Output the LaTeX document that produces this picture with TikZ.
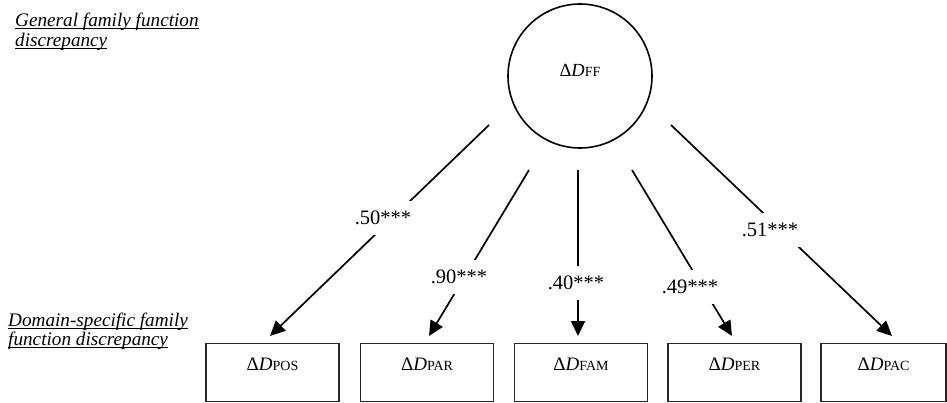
\documentclass[tikz,border=0pt]{standalone}
\usepackage{fontspec}
\setmainfont{Liberation Serif}
\usetikzlibrary{arrows.meta}
\newsavebox\ulbox
\newcommand\ulx[1]{\sbox\ulbox{#1}\rlap{\rule[-2.5pt]{\wd\ulbox}{1pt}}\usebox\ulbox}
\newcommand\dvar[1]{Δ\textit{D}{\fontsize{14}{15}\selectfont #1}}
\begin{document}
\begin{tikzpicture}[x=1pt,y=-1pt,
  lat/.style={circle,draw,line width=1.6pt,minimum size=144pt,inner sep=0pt,
    text height=13pt,text depth=11pt,font=\fontsize{18.5}{20}\selectfont},
  obs/.style={rectangle,draw=black!85,line width=1.1pt,minimum width=133pt,
    minimum height=58pt,inner xsep=2pt,inner ysep=12pt,text height=15pt,
    text depth=19pt,anchor=north,font=\fontsize{19}{20}\selectfont},
  loading/.style={line width=1.7pt,-{Triangle[length=15pt,width=14pt]}},
  coef/.style={fill=white,inner xsep=3pt,inner ysep=10pt,font=\fontsize{20.5}{22}\selectfont},
  lvl/.style={anchor=base west,inner sep=0pt,font=\fontsize{19.2}{20}\selectfont\itshape}]
\useasboundingbox (0,0) rectangle (947,403);

% level labels
\node[lvl] (g1) at (15,27) {\ulx{General family function}};
\node[lvl] (g2) at (15,47) {\ulx{discrepancy}};
\node[lvl] (d1) at (8,326) {\ulx{Domain-specific family}};
\node[lvl] (d2) at (8,345) {\ulx{function discrepancy}};

% latent factor
\node[lat] (ff) at (580,76) {\dvar{FF}};

% observed boxes
\node[obs] (pos) at (272.5,343) {\dvar{POS}};
\node[obs] (par) at (427,343) {\dvar{PAR}};
\node[obs] (fam) at (581,343) {\dvar{FAM}};
\node[obs] (per) at (734.5,343) {\dvar{PER}};
\node[obs,minimum width=125pt] (pac) at (883.5,343) {\dvar{PAC}};

% start points of the loadings
\coordinate (s1) at (489,125);
\coordinate (s2) at (529,170);
\coordinate (s3) at (578,170);
\coordinate (s4) at (632,170);
\coordinate (s5) at (671,125);

\draw[loading] (s1) -- ([xshift=-2.5pt,yshift=7pt]pos.north);
\draw[loading] (s2) -- ([xshift=2pt,yshift=7pt]par.north);
\draw[loading] (s3) -- ([xshift=-3pt,yshift=7pt]fam.north);
\draw[loading] (s4) -- ([xshift=-2.5pt,yshift=7pt]per.north);
\draw[loading] (s5) -- ([xshift=8.5pt,yshift=7pt]pac.north);

% coefficients
\node[coef] (c1) at (383,218) {.50***};
\node[coef] (c2) at (459,277) {.90***};
\node[coef] (c3) at (576,283) {.40***};
\node[coef] (c4) at (690,287) {.49***};
\node[coef] (c5) at (770,230) {.51***};
\end{tikzpicture}
\end{document}
